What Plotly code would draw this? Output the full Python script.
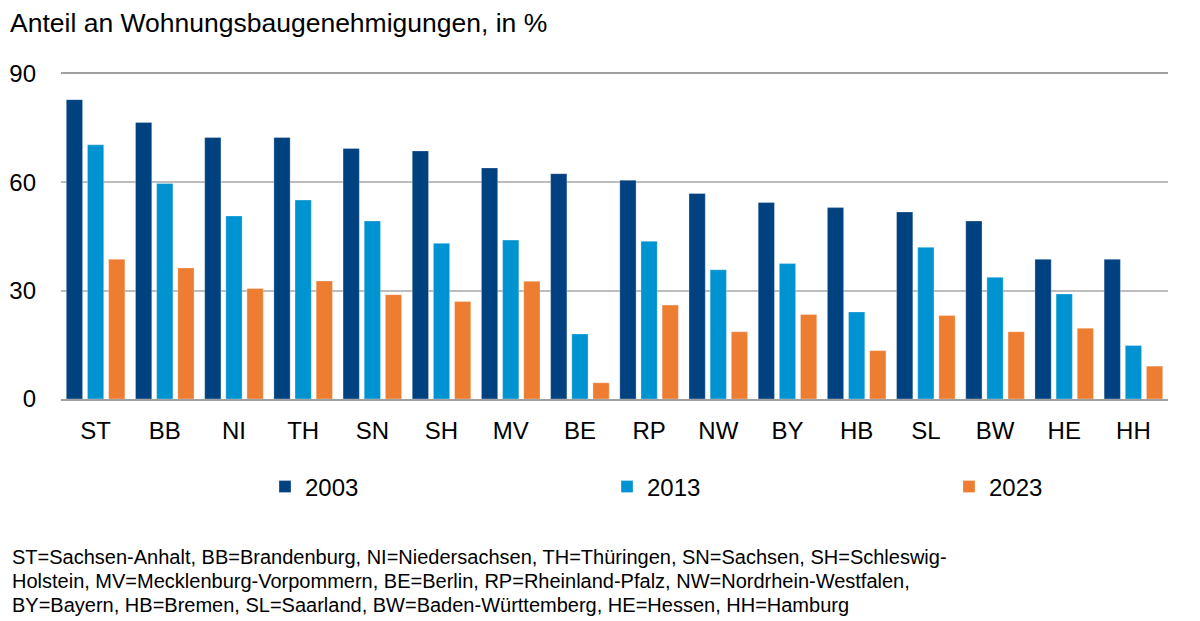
import plotly.graph_objects as go

categories = ["ST", "BB", "NI", "TH", "SN", "SH", "MV", "BE", "RP", "NW", "BY", "HB", "SL", "BW", "HE", "HH"]
v2003 = [82.9, 76.6, 72.4, 72.4, 69.4, 68.7, 64.0, 62.4, 60.6, 56.9, 54.4, 53.0, 51.8, 49.3, 38.7, 38.7]
v2013 = [70.4, 59.7, 50.7, 55.1, 49.3, 43.1, 44.0, 18.0, 43.7, 35.8, 37.5, 24.1, 42.0, 33.7, 29.1, 14.8]
v2023 = [38.7, 36.3, 30.6, 32.7, 28.9, 27.0, 32.6, 4.5, 26.0, 18.6, 23.4, 13.4, 23.1, 18.6, 19.6, 9.1]
series_names = ["2003", "2013", "2023"]
colors = ["#00417F", "#0093D1", "#ED7D31"]
y_ticks = [0, 30, 60, 90]

title_text = "Anteil an Wohnungsbaugenehmigungen, in %"
footnote_lines = [
    "ST=Sachsen-Anhalt, BB=Brandenburg, NI=Niedersachsen, TH=Thüringen, SN=Sachsen, SH=Schleswig-",
    "Holstein, MV=Mecklenburg-Vorpommern, BE=Berlin, RP=Rheinland-Pfalz, NW=Nordrhein-Westfalen,",
    "BY=Bayern, HB=Bremen, SL=Saarland, BW=Baden-Württemberg, HE=Hessen, HH=Hamburg",
]

FONT = "Liberation Sans, Arial, sans-serif"
OFF = 8  # page body margin offset
W, H = 1200 - OFF, 621 - OFF
ML, MT = 61 - OFF, 74 - OFF
MR = W - (1168 - OFF)
MB = H - (399 - OFF)
PW = W - ML - MR
PH = H - MT - MB


def py_paper(y_page):
    return ((399 - OFF) - (y_page - OFF)) / PH


def px_paper(x_page):
    return ((x_page - OFF) - ML) / PW


fig = go.Figure()
for name, vals, col in zip(series_names, [v2003, v2013, v2023], colors):
    fig.add_trace(go.Bar(
        x=categories, y=vals, name=name,
        marker=dict(color=col, line=dict(color="rgba(255,255,255,0.5)", width=0.6)),
    ))

annotations = []
line_y = [557, 581, 605]
for txt, yy in zip(footnote_lines, line_y):
    annotations.append(dict(
        text=txt, xref="paper", yref="paper",
        x=px_paper(10), y=py_paper(yy),
        xanchor="left", yanchor="middle", showarrow=False,
        font=dict(family=FONT, size=20, color="#000000"),
    ))

fig.update_layout(
    width=W, height=H,
    margin=dict(l=ML, r=MR, t=MT, b=MB, autoexpand=False),
    paper_bgcolor="white", plot_bgcolor="white",
    font=dict(family=FONT, color="#000000"),
    barmode="group", bargap=0.083, bargroupgap=0.23,
    title=dict(text=title_text, x=(10 - OFF) / W, xanchor="left", xref="container",
               y=(H - (23 - OFF)) / H, yanchor="middle", yref="container",
               font=dict(family=FONT, size=26.5, color="#000000")),
    legend=dict(orientation="h", x=px_paper(265), xanchor="left",
                y=py_paper(487), yanchor="middle",
                font=dict(family=FONT, size=24, color="#000000"),
                entrywidth=297, entrywidthmode="pixels",
                bgcolor="rgba(0,0,0,0)"),
    annotations=annotations,
    showlegend=True,
)
fig.update_xaxes(
    showgrid=False, showline=True, mirror=True, linecolor="#A0A0A0", linewidth=1.5,
    ticks="", tickfont=dict(family=FONT, size=24, color="#000000"),
    ticklabelstandoff=9,
)
fig.update_yaxes(
    range=[0, 90], tickvals=y_ticks, showgrid=True, gridcolor="#BDBDBD", gridwidth=1.5,
    zeroline=False, showline=False, ticks="",
    tickfont=dict(family=FONT, size=24, color="#000000"),
    ticklabelstandoff=24,
)

fig.write_html("out.html")
